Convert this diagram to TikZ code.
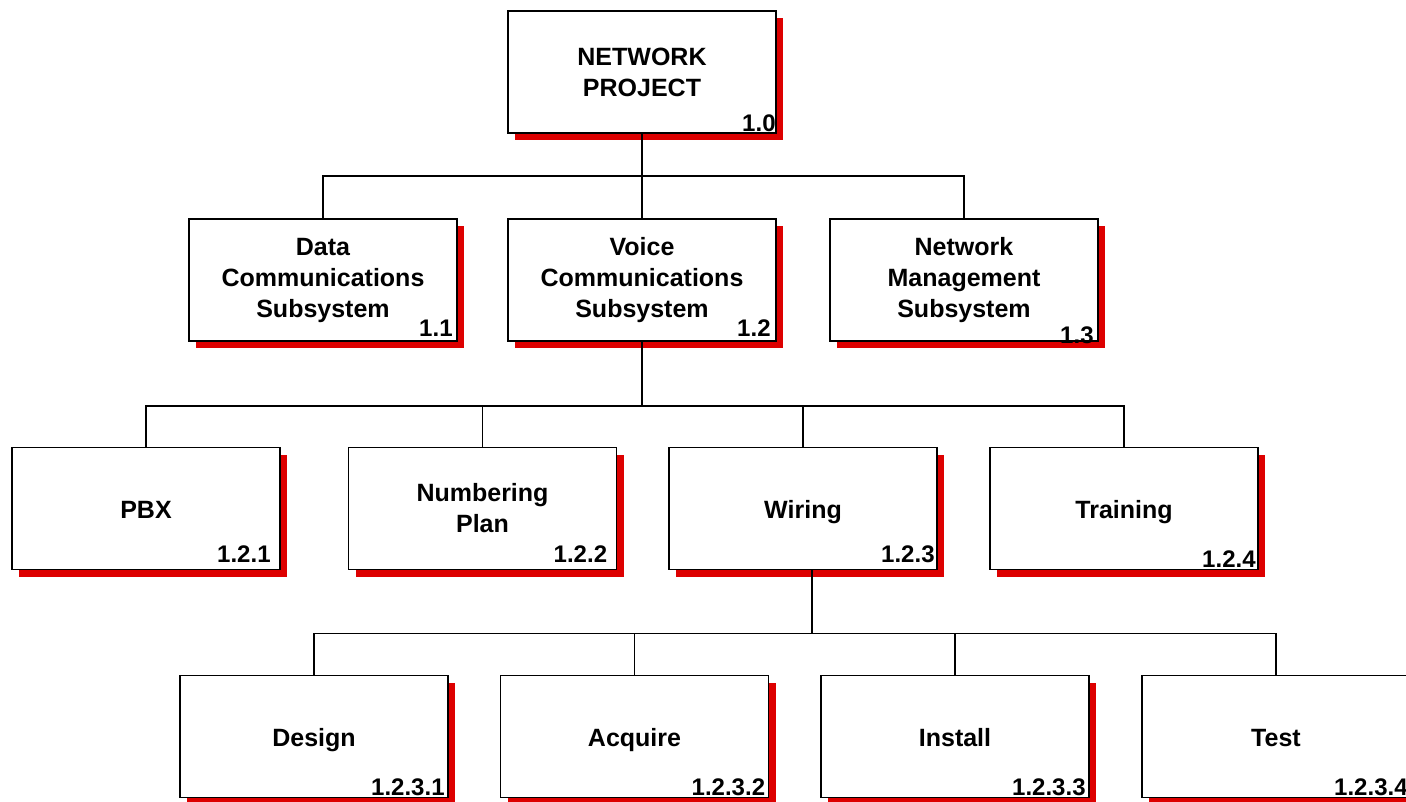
\documentclass[tikz,border=0pt]{standalone}
\usepackage{fontspec}
\setmainfont{Liberation Sans}
\usetikzlibrary{shadows,calc}
\definecolor{shadowred}{HTML}{DD0000}
\tikzset{
  wbs/.style={draw=black, line width=1.6pt, fill=white, minimum width=268pt, minimum height=122pt,
    inner sep=0pt, align=center, font=\fontsize{25}{31}\selectfont\bfseries,
    drop shadow={shadow xshift=7pt, shadow yshift=-7pt, fill=shadowred, opacity=1}},
  oneline/.style={text height=21pt, text depth=2pt},
  num/.style={font=\fontsize{24}{24}\selectfont\bfseries, inner sep=0pt, anchor=base east},
  link/.style={line width=1.6pt, black}
}
\begin{document}
\begin{tikzpicture}[x=1pt,y=-1pt]
\useasboundingbox (0,0) rectangle (1406,801);
\clip (0,0) rectangle (1406,801);
% level 1
\node[wbs] (top) at (642,72) {NETWORK\\PROJECT};
% level 2
\node[wbs] (data) at (323,280) {Data\\Communications\\Subsystem};
\node[wbs] (voice) at (642,280) {Voice\\Communications\\Subsystem};
\node[wbs] (mgmt) at (964,280) {Network\\Management\\Subsystem};
% level 3
\node[wbs, oneline] (pbx) at (146,508.5) {PBX};
\node[wbs] (numb) at (482.5,508.5) {Numbering\\Plan};
\node[wbs, oneline] (wir) at (803,508.5) {Wiring};
\node[wbs, oneline] (train) at (1124,508.5) {Training};
% level 4
\node[wbs, oneline] (des) at (314,736.5) {Design};
\node[wbs, oneline] (acq) at (634.5,736.5) {Acquire};
\node[wbs, oneline] (inst) at (955,736.5) {Install};
\node[wbs, oneline] (test) at (1276,736.5) {Test};
% numbers
\node[num] (n1) at ($(top.south east)+(-1,-2)$) {1.0};
\node[num] (n2) at ($(data.south east)+(-5,-5)$) {1.1};
\node[num] (n3) at ($(voice.south east)+(-6,-5)$) {1.2};
\node[num] (n4) at ($(mgmt.south east)+(-5,2)$) {1.3};
\node[num] (n5) at ($(pbx.south east)+(-10,-8)$) {1.2.1};
\node[num] (n6) at ($(numb.south east)+(-10,-8)$) {1.2.2};
\node[num] (n7) at ($(wir.south east)+(-3,-8)$) {1.2.3};
\node[num] (n8) at ($(train.south east)+(-3,-3)$) {1.2.4};
\node[num] (n9) at ($(des.south east)+(-4,-3)$) {1.2.3.1};
\node[num] (n10) at ($(acq.south east)+(-4,-3)$) {1.2.3.2};
\node[num] (n11) at ($(inst.south east)+(-4,-3)$) {1.2.3.3};
\node[num] (n12) at ($(test.south east)+(-3,-3)$) {1.2.3.4};
% connectors
\coordinate (b1) at ($(top.south)+(0,42)$);
\draw[link] (top.south) -- (b1);
\draw[link] (b1) -| (data.north);
\draw[link] (b1) -| (mgmt.north);
\draw[link] (b1) -- (voice.north);
\coordinate (b2) at ($(voice.south)+(0,64)$);
\draw[link] (voice.south) -- (b2);
\draw[link] (b2) -| (pbx.north);
\draw[link] (b2) -| (numb.north);
\draw[link] (b2) -| (wir.north);
\draw[link] (b2) -| (train.north);
\coordinate (w0) at ($(wir.south)+(9,0)$);
\coordinate (b3) at ($(w0)+(0,63)$);
\draw[link] (w0) -- (b3);
\draw[link] (b3) -| (des.north);
\draw[link] (b3) -| (acq.north);
\draw[link] (b3) -| (inst.north);
\draw[link] (b3) -| (test.north);
\end{tikzpicture}
\end{document}
